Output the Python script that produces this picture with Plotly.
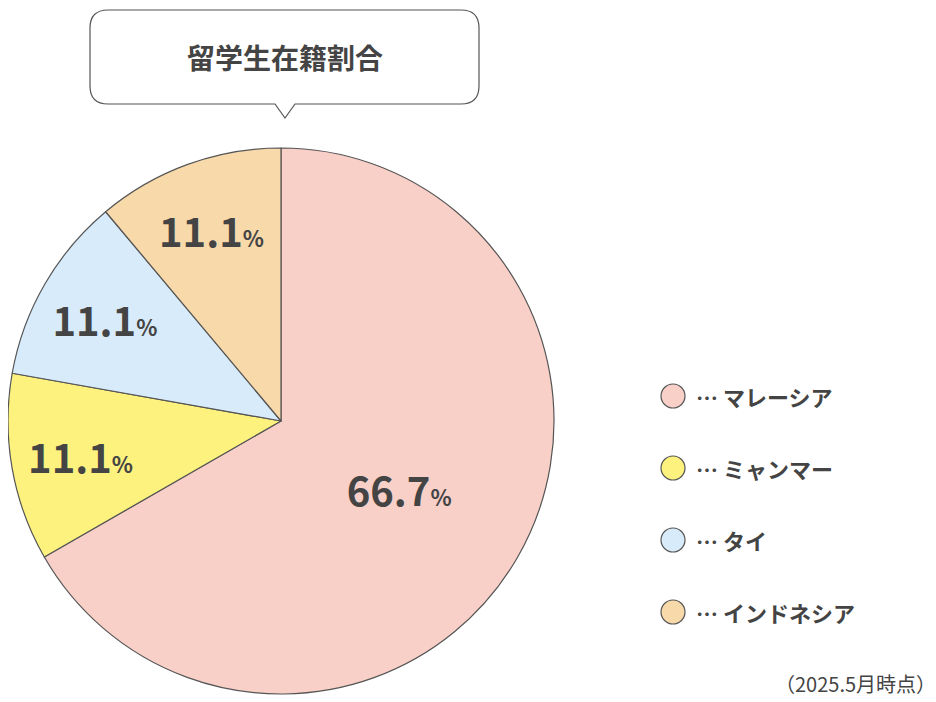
import plotly.graph_objects as go

countries = ["マレーシア", "ミャンマー", "タイ", "インドネシア"]
shares = [66.7, 11.1, 11.1, 11.1]
colors = ["#F8D0C8", "#FDF27E", "#D8EBFA", "#F8D9AA"]
title = "留学生在籍割合"
note = "（2025.5月時点）"

W, H = 936, 702
FONT = "Noto Sans CJK JP"
INK = "#444444"


def px(x, y):
    return x / W, 1 - y / H


fig = go.Figure()
fig.add_trace(
    go.Pie(
        labels=countries,
        values=shares,
        sort=False,
        direction="clockwise",
        rotation=0,
        marker=dict(colors=colors, line=dict(color="#555555", width=1.2)),
        texttemplate=[f"<b>{v}<span style='font-size:22px'>%</span></b>" for v in shares],
        textposition="inside",
        insidetextorientation="horizontal",
        textfont=dict(family=FONT, size=40, color=INK),
        domain=dict(x=[0, 546 / W], y=[1 - 689 / H, 1 - 137 / H]),
        showlegend=False,
        hoverinfo="label+percent",
    )
)

shapes = [
    dict(
        type="path", xref="paper", yref="paper",
        path="M {} {} L {} {} Q {} {} {} {} L {} {} Q {} {} {} {} L {} {} L {} {} L {} {} L {} {} Q {} {} {} {} L {} {} Q {} {} {} {} Z".format(
            *px(100, 2), *px(453, 2), *px(471, 2), *px(471, 20), *px(471, 78),
            *px(471, 96), *px(453, 96), *px(287, 96), *px(277, 110), *px(267, 96),
            *px(100, 96), *px(82, 96), *px(82, 78), *px(82, 20), *px(82, 2), *px(100, 2),
        ),
        line=dict(color="#555555", width=1.2), fillcolor="white",
    )
]
tx, ty = px(277, 49)
nx, ny = px(930, 675)
annotations = [
    dict(x=tx, y=ty, xref="paper", yref="paper", text=f"<b>{title}</b>",
         xanchor="center", yanchor="middle", showarrow=False,
         font=dict(family=FONT, size=28, color=INK)),
    dict(x=nx, y=ny, xref="paper", yref="paper", text=note,
         xanchor="right", yanchor="middle", showarrow=False,
         font=dict(family=FONT, size=20, color=INK)),
]
for i, (name, c) in enumerate(zip(countries, colors)):
    cy = 388 + i * 72
    x0, y0 = px(653, cy - 12)
    x1, y1 = px(677, cy + 12)
    shapes.append(dict(type="circle", xref="paper", yref="paper", x0=x0, x1=x1, y0=y1, y1=y0,
                       fillcolor=c, line=dict(color="#555555", width=1.2)))
    lx, ly = px(686, cy)
    annotations.append(dict(x=lx, y=ly, xref="paper", yref="paper", text=f"<b>… {name}</b>",
                            xanchor="left", yanchor="middle", showarrow=False,
                            font=dict(family=FONT, size=22, color=INK)))

fig.update_layout(
    width=W, height=H, margin=dict(l=0, r=0, t=0, b=0),
    paper_bgcolor="white", plot_bgcolor="white",
    shapes=shapes, annotations=annotations,
)
fig.write_html("out.html")
